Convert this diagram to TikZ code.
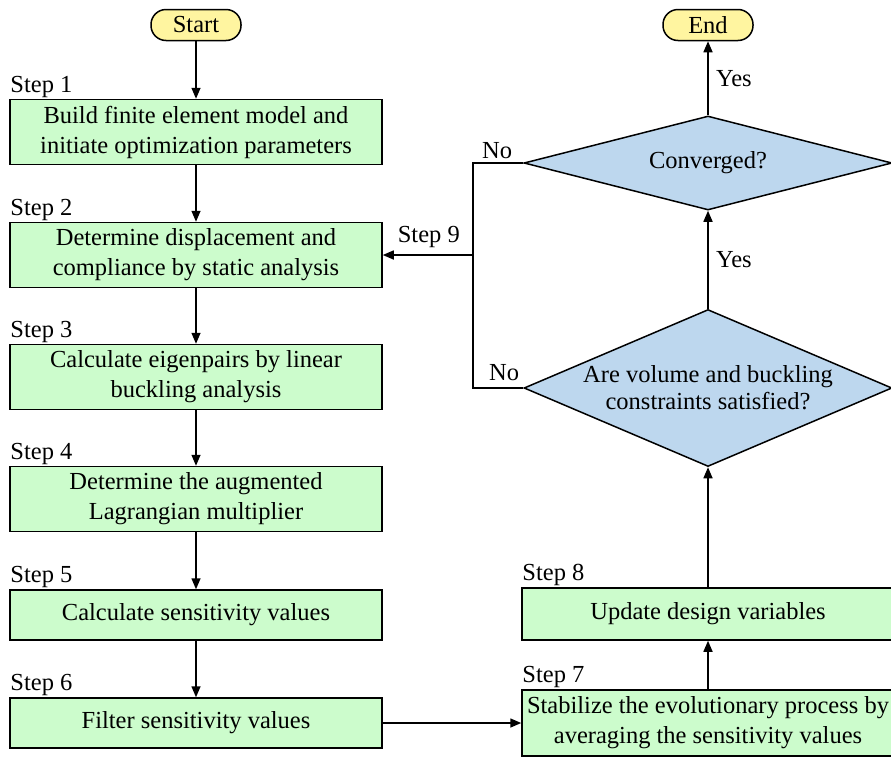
\documentclass[tikz,border=0pt]{standalone}
\usepackage{fontspec}
\setmainfont{Liberation Serif}
\usetikzlibrary{shapes,arrows.meta,positioning,calc}

\definecolor{procgreen}{RGB}{204,252,204}
\definecolor{decblue}{RGB}{189,215,238}
\definecolor{termyellow}{RGB}{255,245,160}

\tikzset{
  process/.style={draw, line width=1.5pt, fill=procgreen, minimum width=372pt, align=center, inner sep=2pt},
  term/.style={draw, line width=1.5pt, fill=termyellow, rounded corners=15pt, minimum width=90pt, minimum height=31pt, inner sep=2pt},
  decision/.style={draw, diamond, line width=1.5pt, fill=decblue, minimum width=368pt, inner sep=0pt},
  steplbl/.style={anchor=south west, inner sep=1pt},
  flow/.style={-{Triangle[length=11pt,width=9pt]}, line width=1.5pt},
  link/.style={line width=1.5pt},
  yes/.style={right, xshift=4pt}
}

\begin{document}
\begin{tikzpicture}[x=1pt, y=-1pt, font=\fontsize{24.5}{30}\selectfont]
    \useasboundingbox (0,0) rectangle (891,758);

    % Start
    \node[term] (start) at (196,25) {Start};

    % Steps 1-6 on the left
    \node[process, minimum height=65pt] (s1) at (196,132) {Build finite element model and\\initiate optimization parameters};
    \node[steplbl] at (s1.north west) {Step 1};
    \node[process, minimum height=65pt] (s2) at (196,255) {Determine displacement and\\compliance by static analysis};
    \node[steplbl] at (s2.north west) {Step 2};
    \node[process, minimum height=65pt] (s3) at (196,377) {Calculate eigenpairs by linear\\buckling analysis};
    \node[steplbl] at (s3.north west) {Step 3};
    \node[process, minimum height=65pt] (s4) at (196,499) {Determine the augmented\\Lagrangian multiplier};
    \node[steplbl] at (s4.north west) {Step 4};
    \node[process, minimum height=50pt] (s5) at (196,615) {Calculate sensitivity values};
    \node[steplbl] at (s5.north west) {Step 5};
    \node[process, minimum height=50pt] (s6) at (196,723) {Filter sensitivity values};
    \node[steplbl] at (s6.north west) {Step 6};

    % Steps 7-8 on the right
    \node[process, minimum height=66pt] (s7) at (708,723) {Stabilize the evolutionary process by\\averaging the sensitivity values};
    \node[steplbl] at (s7.north west) {Step 7};
    \node[process, minimum height=52pt] (s8) at (708,614) {Update design variables};
    \node[steplbl] at (s8.north west) {Step 8};

    % Checks
    \node[decision, minimum height=157pt, label={[align=center, font=\fontsize{24.5}{27}\selectfont]center:Are volume and buckling\\constraints satisfied?}] (vol) at (708,388) {};
    \node[decision, minimum height=94pt, label={center:Converged?}] (conv) at (708,163) {};

    % End
    \node[term] (end) at (708,25) {End};

    % Main flow
    \draw[flow] (start) -- (s1);
    \draw[flow] (s1) -- (s2);
    \draw[flow] (s2) -- (s3);
    \draw[flow] (s3) -- (s4);
    \draw[flow] (s4) -- (s5);
    \draw[flow] (s5) -- (s6);
    \draw[flow] (s6) -- (s7);
    \draw[flow] (s7) -- (s8);
    \draw[flow] (s8) -- (vol);
    \draw[flow] (vol) -- node[yes] {Yes} (conv);
    \draw[flow] (conv) -- node[yes] {Yes} (end);

    % Step 9 loop back
    \coordinate (j9) at (473,255);
    \draw[link] (conv.west) -- (conv.west -| j9) -- (vol.west -| j9) -- (vol.west);
    \node[anchor=south east, inner sep=1pt, xshift=-10pt, yshift=3pt] at (conv.west) {No};
    \node[anchor=south east, inner sep=1pt, xshift=-3pt, yshift=6pt] at (vol.west) {No};
    \draw[flow] (j9) -- (s2.east);
    \node[anchor=south east, inner sep=1pt, xshift=-12pt, yshift=6pt] at (j9) {Step 9};
\end{tikzpicture}
\end{document}
